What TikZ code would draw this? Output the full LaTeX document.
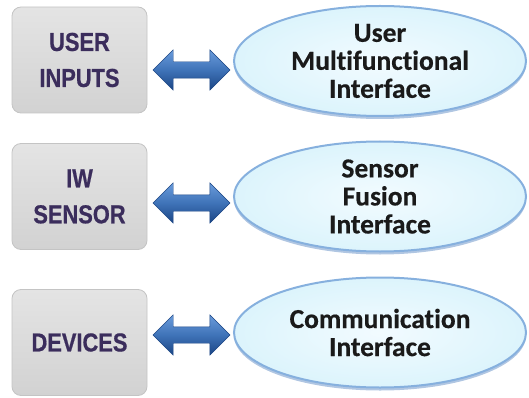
\documentclass[tikz,border=0pt]{standalone}
\usepackage{fontspec}
\usetikzlibrary{shapes.geometric,shapes.arrows,shadows}
\newfontfamily\boxfont[FakeStretch=0.84,FakeBold=0.6]{Liberation Sans Bold}
\newfontfamily\ifont[Ligatures=NoCommon,FakeBold=0.4]{Carlito Bold}
\definecolor{boxtext}{HTML}{3B2D5C}
\definecolor{boxtop}{HTML}{E4E4E4}
\definecolor{boxbot}{HTML}{D2D2D2}
\definecolor{boxedge}{HTML}{C4C4C4}
\definecolor{ellfill}{HTML}{DCF4FC}
\definecolor{ellin}{HTML}{F2FBFF}
\definecolor{elledge}{HTML}{86B0DE}
\definecolor{ellshadow}{HTML}{4F80BE}
\definecolor{arrtop}{HTML}{6A9BDB}
\definecolor{arrmid}{HTML}{3F73B8}
\definecolor{arrbot}{HTML}{1B4584}
\definecolor{itext}{HTML}{1A1A1A}
\begin{document}
\begin{tikzpicture}[x=1pt,y=-1pt]
\useasboundingbox (0,0) rectangle (529,398);
\tikzset{
  srcbox/.style={rounded corners=9pt, minimum width=135pt, minimum height=106pt,
    top color=boxtop, bottom color=boxbot, draw=boxedge, line width=0.8pt,
    align=center, text=boxtext, inner sep=0pt,
    font=\boxfont\fontsize{26}{36}\selectfont},
  iface/.style={ellipse, minimum width=292pt, minimum height=110pt, inner sep=0pt,
    inner color=ellin, outer color=ellfill, draw=elledge, line width=2pt,
    drop shadow={fill=ellshadow, opacity=0.45, shadow xshift=0pt, shadow yshift=-3pt},
    align=center, text=itext, font=\ifont\fontsize{27.5}{28}\selectfont},
  link/.style={double arrow, minimum height=77pt, minimum width=40pt, inner sep=8pt,
    double arrow head extend=12pt, top color=arrtop, bottom color=arrbot,
    middle color=arrmid, draw=arrbot, line width=0.4pt}
}
\node[srcbox] (b1) at (79.5,60) {USER\\INPUTS};
\node[srcbox] (b2) at (79.5,196.5) {IW\\SENSOR};
\node[srcbox] (b3) at (79.5,342.5) {DEVICES};
\node[iface] (e1) at (380,61) {User\\Multifunctional\\Interface};
\node[iface] (e2) at (380,196.5) {Sensor\\Fusion\\Interface};
\node[iface] (e3) at (380,332.5) {Communication\\Interface};
\node[link] (a1) at (191.5,70) {};
\node[link] (a2) at (191.5,203) {};
\node[link] (a3) at (191.5,335) {};
\end{tikzpicture}
\end{document}
